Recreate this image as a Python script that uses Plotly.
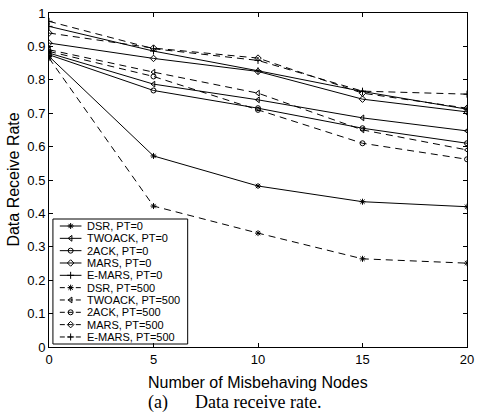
import plotly.graph_objects as go

x_nodes = [0, 5, 10, 15, 20]

series_names = [
    "DSR, PT=0", "TWOACK, PT=0", "2ACK, PT=0", "MARS, PT=0", "E-MARS, PT=0",
    "DSR, PT=500", "TWOACK, PT=500", "2ACK, PT=500", "MARS, PT=500", "E-MARS, PT=500",
]

dsr_pt0 = [0.870, 0.572, 0.482, 0.435, 0.420]
twoack_pt0 = [0.880, 0.787, 0.740, 0.686, 0.647]
ack2_pt0 = [0.875, 0.768, 0.715, 0.655, 0.610]
mars_pt0 = [0.910, 0.864, 0.825, 0.742, 0.704]
emars_pt0 = [0.960, 0.886, 0.827, 0.765, 0.712]
dsr_pt500 = [0.865, 0.422, 0.341, 0.264, 0.251]
twoack_pt500 = [0.890, 0.823, 0.760, 0.650, 0.590]
ack2_pt500 = [0.885, 0.810, 0.710, 0.610, 0.562]
mars_pt500 = [0.940, 0.895, 0.865, 0.760, 0.715]
emars_pt500 = [0.975, 0.893, 0.858, 0.766, 0.757]

values = [dsr_pt0, twoack_pt0, ack2_pt0, mars_pt0, emars_pt0,
          dsr_pt500, twoack_pt500, ack2_pt500, mars_pt500, emars_pt500]

symbols = ["asterisk-open", "triangle-left-open", "circle-open", "diamond-open", "cross-thin-open"] * 2
dashes = ["solid"] * 5 + ["7px,5px"] * 5

y_ticks = [0, 0.1, 0.2, 0.3, 0.4, 0.5, 0.6, 0.7, 0.8, 0.9, 1]
y_ticktext = ["0", "0.1", "0.2", "0.3", "0.4", "0.5", "0.6", "0.7", "0.8", "0.9", "1"]
x_ticks = [0, 5, 10, 15, 20]

# plot area in pixels: left 49, right 474, top 13, bottom 347
PL, PR, PT_, PB = 49, 474, 13, 347
W, H = 480, 418

fig = go.Figure()
for name, vals, sym, dash in zip(series_names, values, symbols, dashes):
    fig.add_trace(go.Scatter(
        x=x_nodes, y=vals, name=name, mode="lines+markers", showlegend=False,
        line=dict(color="black", width=1, dash=dash),
        marker=dict(symbol=sym, size=5, color="black", line=dict(color="black", width=1)),
    ))

# hand-drawn legend on a pixel-scaled overlay axis (x2/y2: px from plot left / bottom)
leg_x0, leg_x1, leg_top, leg_bot = 53, 190, 219, 344
row0, row_step = 226, 12.33
annotations = []
for i, (name, sym, dash) in enumerate(zip(series_names, symbols, dashes)):
    ypix = PB - (row0 + row_step * i)
    fig.add_trace(go.Scatter(
        x=[60 - PL, 82 - PL], y=[ypix, ypix], mode="lines", xaxis="x2", yaxis="y2",
        showlegend=False, hoverinfo="skip",
        line=dict(color="black", width=1, dash=("solid" if dash == "solid" else "5px,3px")),
    ))
    fig.add_trace(go.Scatter(
        x=[71 - PL], y=[ypix], mode="markers", xaxis="x2", yaxis="y2",
        showlegend=False, hoverinfo="skip",
        marker=dict(symbol=sym, size=5, color="black", line=dict(color="black", width=1)),
    ))
    annotations.append(dict(
        text=name, xref="x2", yref="y2", x=86 - PL, y=ypix, xanchor="left", yanchor="middle",
        showarrow=False, font=dict(family="Liberation Sans, Arial", size=11, color="black"),
    ))

axis_common = dict(
    showgrid=False, zeroline=False, showline=True, linecolor="black", linewidth=1,
    mirror="ticks", ticks="inside", ticklen=4, tickcolor="black",
    tickfont=dict(family="Liberation Sans, Arial", size=13, color="black"),
)

annotations += [
    dict(text="Number of Misbehaving Nodes", xref="paper", yref="paper",
         x=0.5, y=-(382 - PB) / (PB - PT_), xanchor="center", yanchor="middle", showarrow=False,
         font=dict(family="Liberation Sans, Arial", size=16, color="black")),
    dict(text="Data Receive Rate", xref="paper", yref="paper",
         x=(12 - PL) / (PR - PL), y=0.5, xanchor="center", yanchor="middle", showarrow=False,
         textangle=-90,
         font=dict(family="Liberation Sans, Arial", size=16, color="black")),
    dict(text="(a)" + "&nbsp;" * 6 + "Data receive rate.", xref="paper", yref="paper",
         x=(238 - PL) / (PR - PL), y=-(402 - PB) / (PB - PT_), xanchor="center", yanchor="middle",
         showarrow=False,
         font=dict(family="Liberation Serif, Times New Roman", size=18, color="black")),
]

fig.update_layout(
    width=W, height=H,
    margin=dict(l=PL, r=W - PR, t=PT_, b=H - PB),
    paper_bgcolor="white", plot_bgcolor="white",
    xaxis=dict(range=[0, 20], tickvals=x_ticks, ticklabeloverflow="allow", **axis_common),
    yaxis=dict(range=[0, 1], tickvals=y_ticks, ticktext=y_ticktext, **axis_common),
    xaxis2=dict(range=[0, PR - PL], overlaying="x", anchor="y2", visible=False, fixedrange=True),
    yaxis2=dict(range=[0, PB - PT_], overlaying="y", anchor="x2", visible=False, fixedrange=True),
    showlegend=False,
    shapes=[dict(type="rect", xref="x2", yref="y2",
                 x0=leg_x0 - PL, x1=leg_x1 - PL, y0=PB - leg_bot, y1=PB - leg_top,
                 line=dict(color="black", width=1), fillcolor="white", layer="below")],
    annotations=annotations,
)

fig.write_html("out.html")
